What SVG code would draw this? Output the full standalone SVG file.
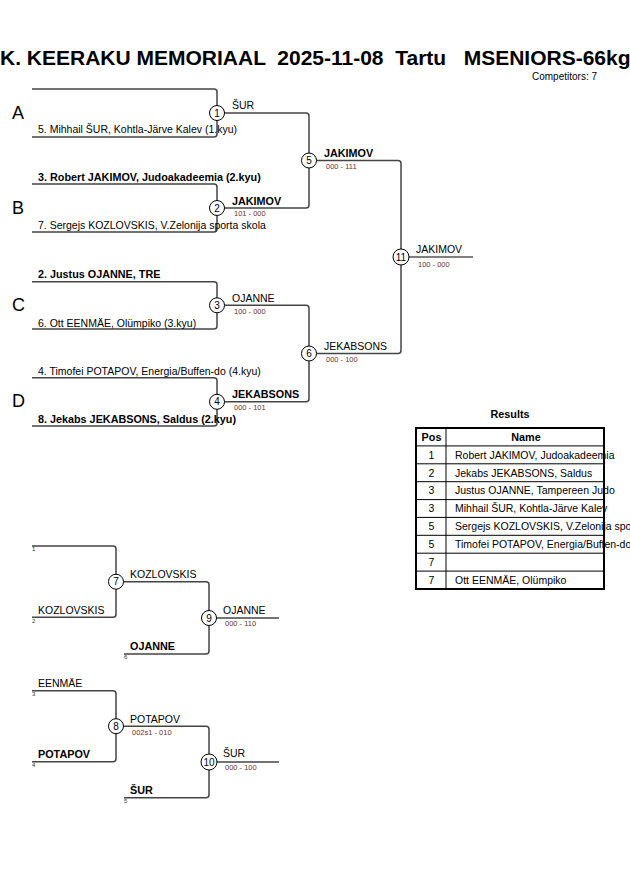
<svg xmlns="http://www.w3.org/2000/svg" width="630" height="891" viewBox="0 0 630 891">
<style>
text{font-family:"Liberation Sans",Arial,sans-serif;fill:#000}
.title{font-size:21px;font-weight:bold}
.comp{font-size:10px}
.n{font-size:10.5px}
.b{font-size:10.8px;font-weight:bold}
.sc{font-size:7.5px;fill:#6e3030}
.sm{font-size:6px;fill:#333}
.pool{font-size:18px}
.num{font-size:10px;text-anchor:middle}
.br{fill:none;stroke:#444;stroke-width:1.5}
.out{fill:none;stroke:#000;stroke-width:1.2}
.c{fill:#fff;stroke:#000;stroke-width:1}
.th{font-size:10.8px;font-weight:bold;text-anchor:middle}
.td{font-size:10.5px}
.tc{font-size:10.5px;text-anchor:middle}
.rl{stroke:#000;stroke-width:1}
</style>
<rect width="630" height="891" fill="#fff"/>
<text class="title" x="0" y="65" xml:space="preserve">K. KEERAKU MEMORIAAL  2025-11-08  Tartu   MSENIORS-66kg</text>
<text class="comp" x="532" y="80">Competitors: 7</text>

<g id="pools">
<text class="pool" x="12" y="119">A</text>
<text class="pool" x="12" y="214">B</text>
<text class="pool" x="12" y="311">C</text>
<text class="pool" x="12" y="407">D</text>
</g>

<g id="connectors">
<path class="br" d="M32 89 H214 Q217 89 217 92 V134 Q217 137 214 137 H32"/>
<path class="br" d="M32 184 H214 Q217 184 217 187 V229 Q217 232 214 232 H32"/>
<path class="br" d="M32 281.7 H214 Q217 281.7 217 284.7 V326 Q217 329 214 329 H32"/>
<path class="br" d="M32 377.7 H214 Q217 377.7 217 380.7 V423 Q217 426 214 426 H32"/>
<path class="br" d="M217 113 H306 Q309 113 309 116 V205 Q309 208 306 208 H217"/>
<path class="br" d="M217 305.3 H306 Q309 305.3 309 308.3 V398.8 Q309 401.8 306 401.8 H217"/>
<path class="br" d="M309 160.5 H398 Q401 160.5 401 163.5 V350.5 Q401 353.5 398 353.5 H309"/>
<path class="out" d="M401 257 H473"/>
<path class="br" d="M32 546 H113 Q116 546 116 549 V614.3 Q116 617.3 113 617.3 H32"/>
<path class="br" d="M116 581.7 H206 Q209 581.7 209 584.7 V651 Q209 654 206 654 H124"/>
<path class="br" d="M209 618 H279"/>
<path class="br" d="M32 690.7 H113 Q116 690.7 116 693.7 V758.7 Q116 761.7 113 761.7 H32"/>
<path class="br" d="M116 726.2 H206 Q209 726.2 209 729.2 V794.7 Q209 797.7 206 797.7 H124"/>
<path class="br" d="M209 762 H279"/>
</g>

<g id="competitors">
<text class="n" x="38" y="133">5. Mihhail ŠUR, Kohtla-Järve Kalev (1.kyu)</text>
<text class="b" x="38" y="181">3. Robert JAKIMOV, Judoakadeemia (2.kyu)</text>
<text class="n" x="38" y="228.5">7. Sergejs KOZLOVSKIS, V.Zelonija sporta skola</text>
<text class="b" x="38" y="277.5">2. Justus OJANNE, TRE</text>
<text class="n" x="38" y="326.5">6. Ott EENMÄE, Olümpiko (3.kyu)</text>
<text class="n" x="38" y="375">4. Timofei POTAPOV, Energia/Buffen-do (4.kyu)</text>
<text class="b" x="38" y="422.5">8. Jekabs JEKABSONS, Saldus (2.kyu)</text>
</g>

<g id="m1">
<circle class="c" cx="217" cy="113" r="7.5"/>
<text class="num" x="217" y="116.5">1</text>
<text class="n" x="232" y="109">ŠUR</text>
</g>
<g id="m2">
<circle class="c" cx="217" cy="208" r="7.5"/>
<text class="num" x="217" y="211.5">2</text>
<text class="b" x="232" y="205">JAKIMOV</text>
<text class="sc" x="234" y="216">101 - 000</text>
</g>
<g id="m3">
<circle class="c" cx="217" cy="305.3" r="7.5"/>
<text class="num" x="217" y="308.8">3</text>
<text class="n" x="232" y="301.7">OJANNE</text>
<text class="sc" x="234" y="314">100 - 000</text>
</g>
<g id="m4">
<circle class="c" cx="217" cy="401.8" r="7.5"/>
<text class="num" x="217" y="405.3">4</text>
<text class="b" x="232" y="397.7">JEKABSONS</text>
<text class="sc" x="234" y="410">000 - 101</text>
</g>
<g id="m5">
<circle class="c" cx="309" cy="160.5" r="7.5"/>
<text class="num" x="309" y="164">5</text>
<text class="b" x="324" y="156.7">JAKIMOV</text>
<text class="sc" x="326" y="169">000 - 111</text>
</g>
<g id="m6">
<circle class="c" cx="309" cy="353.5" r="7.5"/>
<text class="num" x="309" y="357">6</text>
<text class="n" x="324" y="350">JEKABSONS</text>
<text class="sc" x="326" y="362.3">000 - 100</text>
</g>
<g id="m11">
<circle class="c" cx="401" cy="257" r="8"/>
<text class="num" x="401" y="260.5">11</text>
<text class="n" x="416" y="252.7">JAKIMOV</text>
<text class="sc" x="418" y="266.7">100 - 000</text>
</g>

<g id="m7">
<text class="sm" x="32" y="551">1</text>
<text class="n" x="38" y="614">KOZLOVSKIS</text>
<text class="sm" x="32" y="622.5">2</text>
<circle class="c" cx="116" cy="581.7" r="7.5"/>
<text class="num" x="116" y="585.2">7</text>
<text class="n" x="130" y="577.7">KOZLOVSKIS</text>
</g>
<g id="m9">
<text class="b" x="130" y="650">OJANNE</text>
<text class="sm" x="124" y="659">6</text>
<circle class="c" cx="209" cy="618" r="7.5"/>
<text class="num" x="209" y="621.5">9</text>
<text class="n" x="223" y="614">OJANNE</text>
<text class="sc" x="225" y="626">000 - 110</text>
</g>
<g id="m8">
<text class="n" x="38" y="686.7">EENMÄE</text>
<text class="sm" x="32" y="696">3</text>
<text class="b" x="38" y="758.3">POTAPOV</text>
<text class="sm" x="32" y="767">4</text>
<circle class="c" cx="116" cy="726.2" r="7.5"/>
<text class="num" x="116" y="729.7">8</text>
<text class="n" x="130" y="722.7">POTAPOV</text>
<text class="sc" x="132" y="735">002s1 - 010</text>
</g>
<g id="m10">
<text class="b" x="130" y="794">ŠUR</text>
<text class="sm" x="124" y="803">5</text>
<circle class="c" cx="209" cy="762" r="8"/>
<text class="num" x="209" y="765.5">10</text>
<text class="n" x="223" y="757.3">ŠUR</text>
<text class="sc" x="225" y="770">000 - 100</text>
</g>

<g id="results">
<text class="th" x="510" y="418.3">Results</text>
<text class="th" x="431.5" y="440.5">Pos</text>
<text class="th" x="526" y="440.5">Name</text>
<text class="tc" x="431.5" y="458.6">1</text>
<text class="td" x="455" y="458.6">Robert JAKIMOV, Judoakadeemia</text>
<text class="tc" x="431.5" y="476.5">2</text>
<text class="td" x="455" y="476.5">Jekabs JEKABSONS, Saldus</text>
<text class="tc" x="431.5" y="494.4">3</text>
<text class="td" x="455" y="494.4">Justus OJANNE, Tampereen Judo</text>
<text class="tc" x="431.5" y="512.3">3</text>
<text class="td" x="455" y="512.3">Mihhail ŠUR, Kohtla-Järve Kalev</text>
<text class="tc" x="431.5" y="530.2">5</text>
<text class="td" x="455" y="530.2">Sergejs KOZLOVSKIS, V.Zelonija sporta skola</text>
<text class="tc" x="431.5" y="548.1">5</text>
<text class="td" x="455" y="548.1">Timofei POTAPOV, Energia/Buffen-do</text>
<text class="tc" x="431.5" y="566">7</text>
<text class="tc" x="431.5" y="583.9">7</text>
<text class="td" x="455" y="583.9">Ott EENMÄE, Olümpiko</text>
<line class="rl" x1="416" y1="445.9" x2="604" y2="445.9"/>
<line class="rl" x1="416" y1="463.8" x2="604" y2="463.8"/>
<line class="rl" x1="416" y1="481.7" x2="604" y2="481.7"/>
<line class="rl" x1="416" y1="499.6" x2="604" y2="499.6"/>
<line class="rl" x1="416" y1="517.4" x2="604" y2="517.4"/>
<line class="rl" x1="416" y1="535.3" x2="604" y2="535.3"/>
<line class="rl" x1="416" y1="553.2" x2="604" y2="553.2"/>
<line class="rl" x1="416" y1="571.1" x2="604" y2="571.1"/>
<line class="rl" x1="446" y1="428" x2="446" y2="589"/>
<rect x="416" y="428" width="188" height="161" fill="none" stroke="#000" stroke-width="2"/>
</g>
</svg>
